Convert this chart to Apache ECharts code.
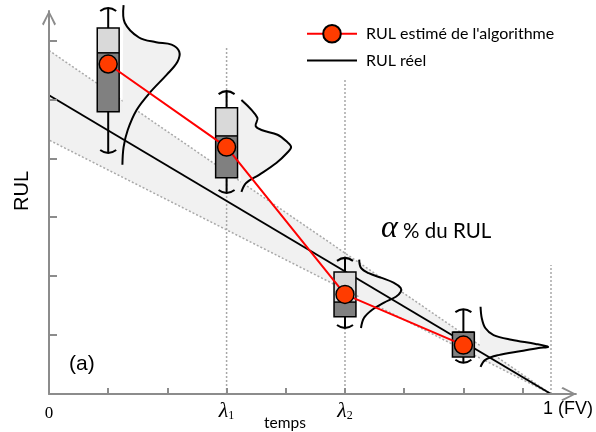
<!DOCTYPE html>
<html><head><meta charset="utf-8">
<script src="https://cdn.jsdelivr.net/npm/echarts@6/dist/echarts.min.js"></script>
<style>html,body{margin:0;padding:0;background:#fff}#c{width:596px;height:432px}</style>
</head><body><div id="c"></div>
<script>
// ---- data (x in time ticks, y in RUL ticks) ----
const boxX        = [1, 3, 5, 7];
const whiskerHigh = [6.55, 5.14, 2.31, 1.44];
const boxHigh     = [6.21, 4.86, 2.07, 1.05];
const boxMedian   = [5.79, 4.38, 1.56, 1.05];
const boxLow      = [4.79, 3.67, 1.31, 0.63];
const whiskerLow  = [4.09, 3.41, 1.12, 0.53];
const rulEstimate = [5.6, 4.19, 1.69, 0.83];
const rulReal   = [[0, 5.07], [8.48, 0]];
const bandUpper = [[0, 5.83], [8.48, 0]];
const bandLower = [[0, 4.31], [8.48, 0]];
const guideX   = [3, 5, 8.48];
const guideTop = [5.87, 5.33, 2.19];
const density1 = [[1.26,6.60],[1.28,6.30],[1.52,6.05],[1.81,5.97],[2.07,5.93],[2.20,5.81],[2.17,5.64],[1.99,5.42],[1.70,5.11],[1.48,4.82],[1.33,4.48],[1.26,4.19],[1.24,3.89]];
const density2 = [[3.25,4.99],[3.52,4.69],[3.49,4.55],[3.59,4.48],[3.86,4.40],[4.02,4.28],[4.09,4.19],[4.02,4.09],[3.84,3.92],[3.55,3.72],[3.33,3.58],[3.25,3.43]];
const density3 = [[5.24,2.28],[5.27,2.14],[5.40,2.05],[5.62,1.97],[5.82,1.89],[5.94,1.80],[5.94,1.73],[5.86,1.65],[5.66,1.55],[5.46,1.43],[5.32,1.29],[5.27,1.12]];
const density4 = [[7.29,1.48],[7.31,1.29],[7.37,1.12],[7.51,1.00],[7.81,0.92],[8.22,0.85],[8.43,0.80],[8.27,0.78],[7.98,0.73],[7.59,0.66],[7.37,0.58],[7.29,0.46]];
const densities = [density1, density2, density3, density4];
const xTickValues = [0, 1, 2, 3, 4, 5, 6, 7, 8];
const yTickValues = [1, 2, 3, 4, 5, 6];
const xLabelValues = [0, 3, 5, 8.48];
const xLabelTexts  = ['0', 'λ1', 'λ2', '1 (FV)'];
const seriesNames = ["RUL estimé de l'algorithme", 'RUL réel'];

const AX = '#8c8c8c';
const arrow = 'path://M7,0 L14,13.6 L12.4,15 L7,3.6 L1.6,15 L0,13.6 Z';

function xLabelFmt(v) {
  const i = xLabelValues.findIndex(t => Math.abs(t - v) < 1e-6);
  if (i < 0) return '';
  const t = xLabelTexts[i];
  if (t.startsWith('λ')) return '{l|λ}{s|' + t.slice(1) + '}';
  if (i === 0) return '{n|' + t + '}';
  return '{f|' + t + '}';
}

const chart = echarts.init(document.getElementById('c'), null, {renderer: 'canvas'});
chart.setOption({
  animation: false,
  backgroundColor: '#fff',
  grid: {left: 49, right: 18, top: 11, bottom: 38},
  legend: {
    orient: 'vertical', left: 301, top: 19, itemWidth: 50, itemHeight: 22, itemGap: 8,
    data: seriesNames,
    textStyle: {fontFamily: 'Lato', fontSize: 16, color: '#000', padding: [0, 0, 0, 4]}
  },
  xAxis: {
    type: 'value', min: 0, max: 8.9, interval: 1, z: 10,
    splitLine: {show: false},
    axisLine: {show: true, lineStyle: {color: AX, width: 2}, symbol: ['none', arrow], symbolSize: [14, 15], symbolOffset: [0, -7]},
    axisTick: {show: true, inside: true, length: 6, customValues: xTickValues, lineStyle: {color: AX, width: 2}},
    axisLabel: {
      customValues: xLabelValues, formatter: xLabelFmt, margin: 6, color: '#000',
      rich: {
        n: {fontFamily: 'Liberation Serif', fontSize: 17, color: '#000', padding: [5, 0, 0, 0]},
        l: {fontFamily: 'Liberation Serif', fontStyle: 'italic', fontSize: 22, color: '#000'},
        s: {fontFamily: 'Liberation Serif', fontSize: 12, color: '#000', padding: [9, 0, 0, 0]},
        f: {fontFamily: 'Liberation Sans', fontSize: 18, color: '#000', padding: [0, 0, 0, 34]}
      }
    }
  },
  yAxis: {
    type: 'value', min: 0, max: 6.5, interval: 1, z: 10,
    splitLine: {show: false},
    axisLine: {show: true, lineStyle: {color: AX, width: 2}, symbol: ['none', arrow], symbolSize: [14, 15], symbolOffset: [0, -7]},
    axisTick: {show: true, inside: true, length: 8, customValues: yTickValues, lineStyle: {color: AX, width: 2}},
    axisLabel: {show: false}
  },
  graphic: [
    {type: 'text', x: 22, y: 191, rotation: Math.PI / 2, z: 20,
      style: {text: 'RUL', font: '20px "Liberation Sans"', fill: '#000', align: 'center', verticalAlign: 'middle'}},
    {type: 'text', x: 69, y: 364, z: 20,
      style: {text: '(a)', font: '21px "Liberation Sans"', fill: '#000', align: 'left', verticalAlign: 'middle'}},
    {type: 'text', x: 285, y: 423, z: 20,
      style: {text: 'temps', font: '15.5px Lato', fill: '#000', align: 'center', verticalAlign: 'middle'}},
    {type: 'text', x: 381, y: 229, z: 20,
      style: {text: '{a|α}{t| % du RUL}', align: 'left', verticalAlign: 'middle',
        rich: {a: {font: 'italic 32px "Liberation Serif"', fill: '#000'}, t: {font: '20.5px Lato', fill: '#000', padding: [4, 0, 0, 0]}}}}
  ],
  series: [
    { // alpha band
      type: 'custom', z: 1, silent: true, data: [[0, 0]],
      renderItem: (p, api) => ({
        type: 'polygon',
        shape: {points: [api.coord(bandUpper[0]), api.coord(bandUpper[1]), api.coord(bandLower[0])]},
        style: {fill: '#f1f1f1', stroke: '#a8a8a8', lineWidth: 1.5, lineDash: [2, 2]}
      })
    },
    { // density curves
      type: 'custom', z: 2, silent: true, data: densities.map((d, i) => [i, 0]),
      renderItem: (p, api) => {
        const pts = densities[p.dataIndex].map(q => api.coord(q));
        return {type: 'group', children: [
          {type: 'polygon', shape: {points: pts, smooth: 0.35}, style: {fill: '#f1f1f1'}},
          {type: 'polyline', shape: {points: pts, smooth: 0.35}, style: {stroke: '#000', lineWidth: 2, fill: null}}
        ]};
      }
    },
    { // vertical guides
      type: 'custom', z: 2, silent: true, data: guideX.map((x, i) => [x, guideTop[i]]),
      renderItem: (p, api) => {
        const a = api.coord([api.value(0), 0]);
        const b = api.coord([api.value(0), api.value(1)]);
        return {type: 'line', shape: {x1: a[0], y1: a[1], x2: b[0], y2: b[1]},
          style: {stroke: '#a8a8a8', lineWidth: 1.5, lineDash: [2, 2]}};
      }
    },
    {
      name: seriesNames[1], type: 'line', z: 3, data: rulReal, symbol: 'none',
      lineStyle: {color: '#000', width: 2},
      itemStyle: {color: 'rgba(0,0,0,0)', borderColor: 'rgba(0,0,0,0)', borderWidth: 0}
    },
    { // box plots
      type: 'custom', z: 4, silent: true,
      data: boxX.map((x, i) => [x, whiskerLow[i], boxLow[i], boxMedian[i], boxHigh[i], whiskerHigh[i]]),
      renderItem: (p, api) => {
        const x = api.value(0);
        const wl = api.coord([x, api.value(1)]);
        const bl = api.coord([x, api.value(2)]);
        const md = api.coord([x, api.value(3)]);
        const bh = api.coord([x, api.value(4)]);
        const wh = api.coord([x, api.value(5)]);
        const cx = wl[0];
        const hw = api.size([0.37, 0])[0] / 2;
        const cw = 8, ch = 3;
        const ls = {stroke: '#000', lineWidth: 2, fill: null};
        return {type: 'group', children: [
          {type: 'line', shape: {x1: cx, y1: wh[1], x2: cx, y2: bh[1]}, style: ls},
          {type: 'line', shape: {x1: cx, y1: bl[1], x2: cx, y2: wl[1]}, style: ls},
          {type: 'bezierCurve', shape: {x1: cx - cw, y1: wh[1] + ch, cpx1: cx, cpy1: wh[1] - ch, x2: cx + cw, y2: wh[1] + ch}, style: ls},
          {type: 'bezierCurve', shape: {x1: cx - cw, y1: wl[1] - ch, cpx1: cx, cpy1: wl[1] + ch, x2: cx + cw, y2: wl[1] - ch}, style: ls},
          {type: 'rect', shape: {x: cx - hw, y: bh[1], width: hw * 2, height: md[1] - bh[1]}, style: {fill: '#d9d9d9'}},
          {type: 'rect', shape: {x: cx - hw, y: md[1], width: hw * 2, height: bl[1] - md[1]}, style: {fill: '#808080'}},
          {type: 'line', shape: {x1: cx - hw, y1: md[1], x2: cx + hw, y2: md[1]}, style: {stroke: '#000', lineWidth: 1.5}},
          {type: 'rect', shape: {x: cx - hw, y: bh[1], width: hw * 2, height: bl[1] - bh[1]}, style: {fill: null, stroke: '#000', lineWidth: 1.5}}
        ]};
      }
    },
    {
      name: seriesNames[0], type: 'line', z: 5,
      data: boxX.map((x, i) => [x, rulEstimate[i]]),
      symbol: 'circle', symbolSize: 18,
      lineStyle: {color: '#ff0000', width: 2},
      itemStyle: {color: '#ff3c00', borderColor: '#000', borderWidth: 1.5}
    }
  ]
});
</script></body></html>
